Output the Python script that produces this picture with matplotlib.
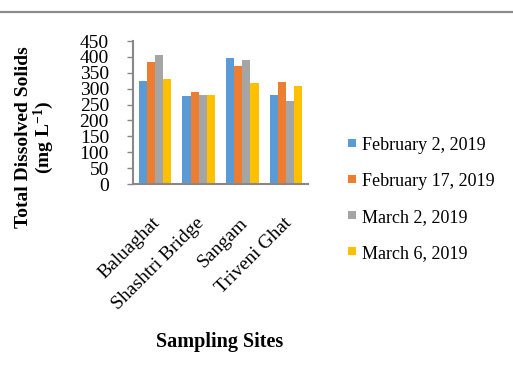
import matplotlib
matplotlib.use("Agg")
import matplotlib.pyplot as plt
import numpy as np
from matplotlib.lines import Line2D
from matplotlib.patches import Patch
from matplotlib.transforms import ScaledTranslation

plt.rcParams['font.family'] = ['Liberation Serif', 'DejaVu Serif']
plt.rcParams['mathtext.fontset'] = 'custom'
plt.rcParams['mathtext.rm'] = 'Liberation Serif:bold'
plt.rcParams['mathtext.it'] = 'Liberation Serif:bold'
plt.rcParams['mathtext.bf'] = 'Liberation Serif:bold'

sites = ['Baluaghat', 'Shashtri Bridge', 'Sangam', 'Triveni Ghat']
dates = ['February 2, 2019', 'February 17, 2019', 'March 2, 2019', 'March 6, 2019']
feb_2 = [325, 276, 398, 280]
feb_17 = [384, 289, 370, 321]
mar_2 = [405, 280, 391, 262]
mar_6 = [329, 280, 317, 310]
yticks = list(range(0, 451, 50))

series = [feb_2, feb_17, mar_2, mar_6]
colors = ['#5B9BD5', '#ED7D31', '#A5A5A5', '#FFC000']

fig = plt.figure(figsize=(5.13, 3.81), dpi=100)
ax = fig.add_axes([0.2593, 0.517, 0.3411, 0.3753])

x = np.arange(len(sites))
w = 0.185
for i, (vals, c) in enumerate(zip(series, colors)):
    ax.bar(x + (i - 1.5) * w, vals, width=w, color=c, label=dates[i])

ax.set_xlim(-0.5, 3.5)
ax.set_ylim(0, 450)
ax.set_yticks(yticks)
ax.set_yticklabels([str(v) for v in yticks], fontsize=14)
ax.tick_params(axis='y', length=4.3, width=1, color='#888888', pad=13)
ax.tick_params(axis='x', length=0, pad=26)

ax.set_xticks(x)
ax.set_xticklabels(sites, fontsize=14, rotation=45, ha='right', va='center',
                   rotation_mode='anchor')
# nudge the slanted site names to sit just right of each group
shift = ScaledTranslation(2 / 72, 0, fig.dpi_scale_trans)
for lab in ax.get_xticklabels():
    lab.set_transform(lab.get_transform() + shift)

for side in ['top', 'right']:
    ax.spines[side].set_visible(False)
for side in ['left', 'bottom']:
    ax.spines[side].set_color('#888888')
    ax.spines[side].set_linewidth(1.5)

handles = [Patch(facecolor=c, edgecolor='none') for c in colors]
fig.legend(handles, dates, loc='center left', bbox_to_anchor=(0.646, 0.477),
           frameon=False, fontsize=13, labelspacing=1.05,
           handlelength=0.44, handleheight=0.3, handletextpad=0.35)

fig.text(0.069, 0.64, 'Total Dissolved Solids\n(mg L$^{-1}$)', rotation=90,
         ha='center', va='center', multialignment='center',
         fontsize=14, fontweight='bold', linespacing=1.0)
fig.text(0.429, 0.102, 'Sampling Sites', ha='center', va='center',
         fontsize=14.5, fontweight='bold')

fig.add_artist(Line2D([0, 1], [0.968, 0.968], transform=fig.transFigure,
                      color='#8c8c8c', linewidth=1.6))

fig.savefig('out.png', dpi=100)
